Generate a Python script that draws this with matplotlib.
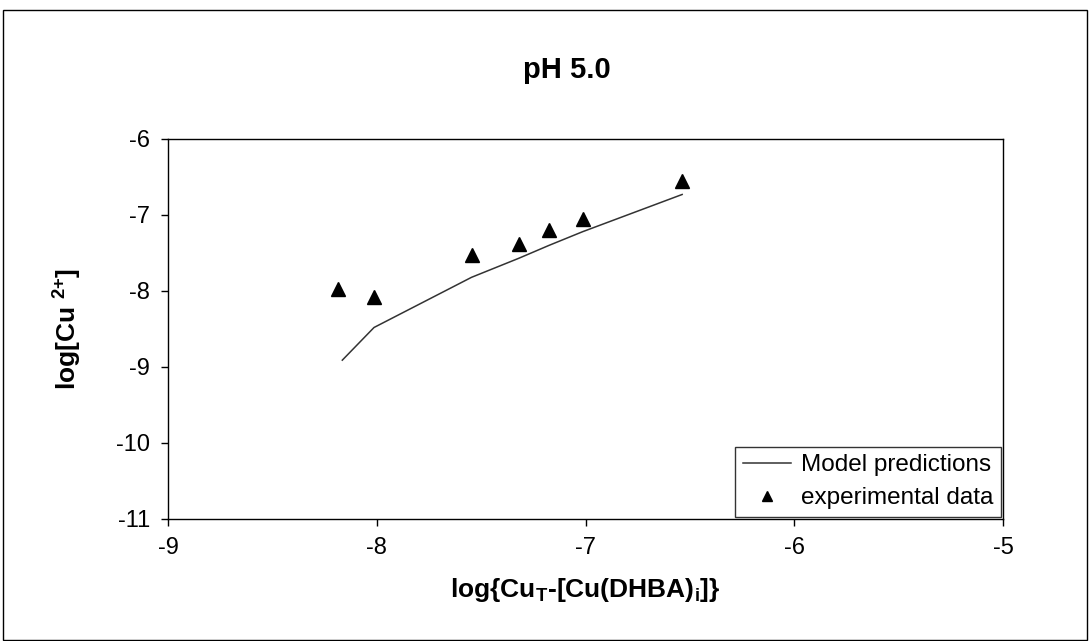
import matplotlib
matplotlib.use("Agg")
import matplotlib.pyplot as plt
from matplotlib.patches import Rectangle

plt.rcParams["font.family"] = ["Liberation Sans", "DejaVu Sans"]
plt.rcParams["mathtext.fontset"] = "custom"
plt.rcParams["mathtext.rm"] = "Liberation Sans:bold"
plt.rcParams["mathtext.bf"] = "Liberation Sans:bold"
plt.rcParams["axes.unicode_minus"] = False

# model predictions (line)
model_x = [-8.165, -8.013, -7.546, -7.32, -7.175, -7.014, -6.537]
model_y = [-8.91, -8.48, -7.82, -7.57, -7.40, -7.22, -6.73]

# experimental data (triangles)
exp_x = [-8.186, -8.014, -7.546, -7.32, -7.175, -7.014, -6.537]
exp_y = [-7.97, -8.08, -7.52, -7.38, -7.20, -7.05, -6.55]

xticks = [-9, -8, -7, -6, -5]
yticks = [-11, -10, -9, -8, -7, -6]

fig = plt.figure(figsize=(10.9, 6.41), dpi=100)
ax = fig.add_axes([168 / 1090, 1 - 519 / 641, (1003 - 168) / 1090, (519 - 139) / 641])

ax.plot(model_x, model_y, color="#333333", linewidth=1.1, label="Model predictions")
ax.plot(exp_x, exp_y, linestyle="none", marker="^", markersize=10,
        color="black", label="experimental data")

ax.set_xlim(-9, -5)
ax.set_ylim(-11, -6)
ax.set_xticks(xticks)
ax.set_yticks(yticks)
ax.tick_params(direction="out", length=5, width=1, labelsize=17, pad=8)
for s in ax.spines.values():
    s.set_linewidth(1)
    s.set_color("black")

ax.set_xlabel(r"log{Cu$_{\mathbf{T}}$-[Cu(DHBA)$_{\mathbf{i}}$]}", fontsize=19,
              fontweight="bold", labelpad=12)
ax.set_ylabel(r"log[Cu $^{\mathbf{2{+}}}$]", fontsize=19, fontweight="bold", labelpad=24)

fig.text(0.52, 1 - 70 / 641, "pH 5.0", ha="center", va="center",
         fontsize=21, fontweight="bold")

leg = ax.legend(loc="lower right", fontsize=17.5, frameon=True, fancybox=False,
                edgecolor="black", borderaxespad=0.1, handlelength=2.0,
                borderpad=0.3, labelspacing=0.45, handletextpad=0.4,
                markerscale=0.75)
leg.get_frame().set_linewidth(1)

fig.patches.append(Rectangle((3 / 1090, 0.002), 1 - 6 / 1090, 1 - 10 / 641 - 0.002,
                             transform=fig.transFigure, fill=False,
                             edgecolor="black", linewidth=1))

fig.savefig("out.png", dpi=100)
